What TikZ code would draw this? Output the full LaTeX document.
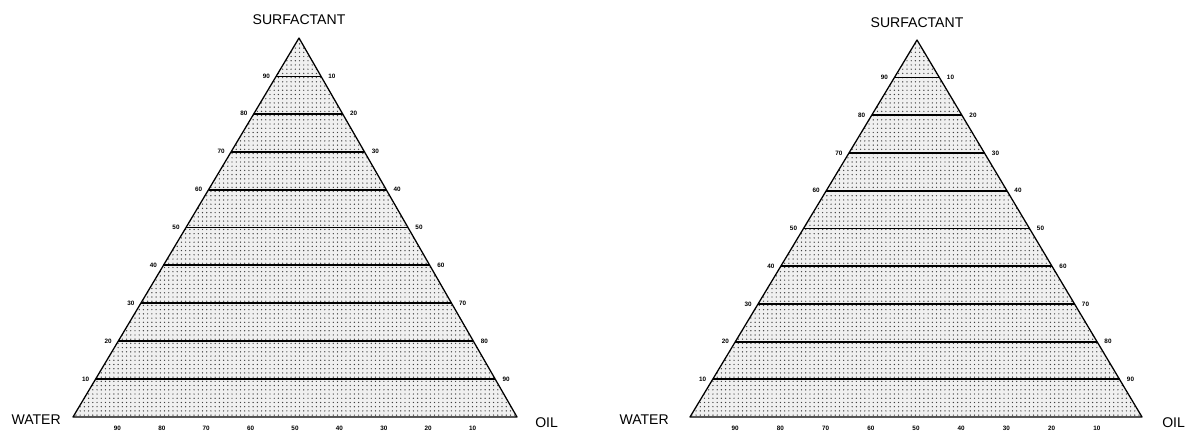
\documentclass[tikz,border=0pt]{standalone}
\usepackage{fontspec}
\setmainfont{Liberation Sans}
\usetikzlibrary{calc, patterns}

\tikzset{
  phase/.style={line width=0.9pt, line join=round},
  tieline/.style={line width=1.3pt},
  corner/.style={font=\fontsize{10}{12}\selectfont, inner sep=0pt},
  ticklabel/.style={font=\fontsize{4.5}{5}\selectfont\bfseries, inner sep=0pt}
}

\begin{document}
\begin{tikzpicture}[x=0.025cm, y=-0.025cm]
                \useasboundingbox (0,0) rectangle (1185,432);

                % Left diagram (corners)
                \coordinate (aW) at (73,417);
                \coordinate (aO) at (517,417);
                \coordinate (aS) at (299,38);

                % Stippled region
                \fill[gray!12] (aW) -- (aO) -- (aS) -- cycle;
                \pattern[pattern=dots, pattern color=black!75] (aW) -- (aO) -- (aS) -- cycle;

                % Lines of equal surfactant content
                \foreach \k in {1,...,8}
                    \draw[tieline] ($(aW)!\k/10!(aS)$) -- ($(aO)!\k/10!(aS)$);
                \draw[thin] ($(aW)!0.9!(aS)$) -- ($(aO)!0.9!(aS)$);
                \draw[phase] (aW) -- (aO) -- (aS) -- cycle;

                % Scale numbers
                \foreach \k [evaluate=\k as \v using int(10*\k), evaluate=\k as \w using int(100-10*\k)] in {1,...,9} {
                    \node[ticklabel] (aL\k) at ($(aW)!\k/10!(aS)+(-10,0)$) {\v};
                    \node[ticklabel] (aR\k) at ($(aO)!\k/10!(aS)+(11,0)$) {\w};
                    \node[ticklabel] (aB\k) at ($(aW)!\k/10!(aO)+(0,11)$) {\w};
                }

                % Corner names
                \node[corner] (aSurf) at ($(aS)+(0,-18)$) {SURFACTANT};
                \node[corner, anchor=east] (aWater) at ($(aW)+(-12,3)$) {WATER};
                \node[corner, anchor=west] (aOil) at ($(aO)+(18,6)$) {OIL};

                % Right diagram (corners)
                \coordinate (bW) at (690,417);
                \coordinate (bO) at (1142,417);
                \coordinate (bS) at (917,40);

                % Stippled region
                \fill[gray!12] (bW) -- (bO) -- (bS) -- cycle;
                \pattern[pattern=dots, pattern color=black!75] (bW) -- (bO) -- (bS) -- cycle;

                % Lines of equal surfactant content
                \foreach \k in {1,...,8}
                    \draw[tieline] ($(bW)!\k/10!(bS)$) -- ($(bO)!\k/10!(bS)$);
                \draw[thin] ($(bW)!0.9!(bS)$) -- ($(bO)!0.9!(bS)$);
                \draw[phase] (bW) -- (bO) -- (bS) -- cycle;

                % Scale numbers
                \foreach \k [evaluate=\k as \v using int(10*\k), evaluate=\k as \w using int(100-10*\k)] in {1,...,9} {
                    \node[ticklabel] (bL\k) at ($(bW)!\k/10!(bS)+(-10,0)$) {\v};
                    \node[ticklabel] (bR\k) at ($(bO)!\k/10!(bS)+(11,0)$) {\w};
                    \node[ticklabel] (bB\k) at ($(bW)!\k/10!(bO)+(0,11)$) {\w};
                }

                % Corner names
                \node[corner] (bSurf) at ($(bS)+(0,-17)$) {SURFACTANT};
                \node[corner, anchor=east] (bWater) at ($(bW)+(-21,3)$) {WATER};
                \node[corner, anchor=west] (bOil) at ($(bO)+(20,6)$) {OIL};
            \end{tikzpicture}
\end{document}
